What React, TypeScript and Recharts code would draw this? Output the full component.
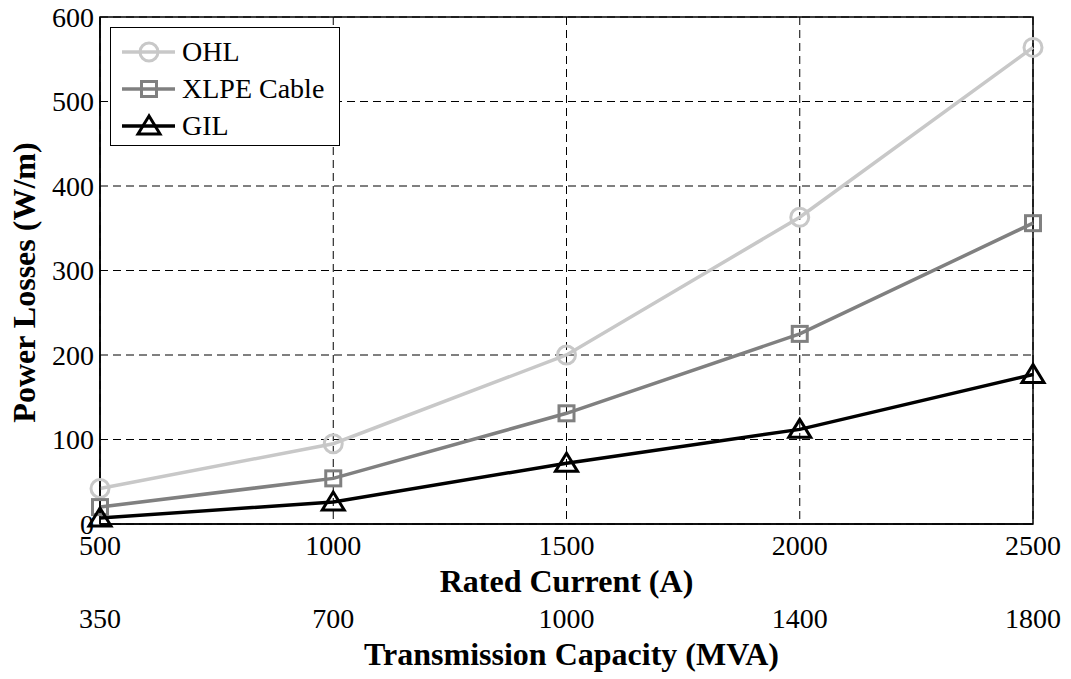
import React from 'react';
import {
  LineChart,
  Line,
  XAxis,
  YAxis,
  CartesianGrid,
  ReferenceArea,
} from 'recharts';

// rated current (A) and the matching transmission capacity (MVA)
const ratedCurrent = [500, 1000, 1500, 2000, 2500];
const capacityMVA = [350, 700, 1000, 1400, 1800];

// power losses in W/m
const ohlLosses = [42, 95, 200, 363, 564];
const xlpeLosses = [20, 54, 131, 225, 356];
const gilLosses = [7, 26, 72, 112, 177];

const lossTicks = [0, 100, 200, 300, 400, 500, 600];

const FONT = '"Liberation Serif", "Times New Roman", serif';
const TITLE_SIZE = 32;
const TICK_SIZE = 28;

const data = ratedCurrent.map((current, i) => ({
  current,
  ohl: ohlLosses[i],
  xlpe: xlpeLosses[i],
  gil: gilLosses[i],
}));

type Marker = 'circle' | 'square' | 'triangle';

const series: { key: string; name: string; color: string; marker: Marker }[] = [
  { key: 'ohl', name: 'OHL', color: '#c8c8c8', marker: 'circle' },
  { key: 'xlpe', name: 'XLPE Cable', color: '#808080', marker: 'square' },
  { key: 'gil', name: 'GIL', color: '#000000', marker: 'triangle' },
];

const MarkerShape = ({ cx, cy, color, marker }: { cx: number; cy: number; color: string; marker: Marker }) => {
  if (marker === 'circle') {
    return <circle cx={cx} cy={cy} r={9} fill="none" stroke={color} strokeWidth={3} />;
  }
  if (marker === 'square') {
    return <rect x={cx - 7.5} y={cy - 7.5} width={15} height={15} fill="none" stroke={color} strokeWidth={3} />;
  }
  const h = 9;
  return (
    <polygon
      points={`${cx},${cy - h - 1} ${cx - 11},${cy + h - 1} ${cx + 11},${cy + h - 1}`}
      fill="none"
      stroke={color}
      strokeWidth={3}
      strokeLinejoin="miter"
    />
  );
};

// legend box sitting in the top-left corner of the plot
const LegendBox = () => (
  <div
    style={{
      position: 'absolute',
      left: 110,
      top: 27,
      width: 230,
      height: 119,
      border: '1.5px solid #000',
      background: '#fff',
      fontFamily: FONT,
      fontSize: 28,
      boxSizing: 'border-box',
      paddingTop: 5,
    }}
  >
    {series.map((s) => (
      <div key={s.key} style={{ display: 'flex', alignItems: 'center', height: 37 }}>
        <svg width={71} height={30} style={{ flex: 'none' }}>
          <line x1={11} y1={15} x2={64} y2={15} stroke={s.color} strokeWidth={3.5} />
          <MarkerShape cx={38} cy={15} color={s.color} marker={s.marker} />
        </svg>
        <span style={{ lineHeight: '30px' }}>{s.name}</span>
      </div>
    ))}
  </div>
);

const capacityLabel = (v: number) => {
  const i = ratedCurrent.indexOf(v);
  return i >= 0 ? String(capacityMVA[i]) : '';
};

// rotated y title, baseline at x = 35
const YTitle = ({ viewBox }: any) => {
  const x = 35;
  const y = viewBox.y + viewBox.height / 2 + 12;
  return (
    <text
      x={x}
      y={y}
      transform={`rotate(-90, ${x}, ${y})`}
      textAnchor="middle"
      fontFamily={FONT}
      fontSize={TITLE_SIZE}
      fontWeight="bold"
      fill="#000"
    >
      Power Losses (W/m)
    </text>
  );
};

export default function App() {
  return (
    <div style={{ position: 'absolute', left: 0, top: 0, width: 1071, height: 679, background: '#fff' }}>
      <LineChart
        width={1071}
        height={679}
        data={data}
        margin={{ top: 17, right: 38, bottom: 0, left: 0 }}
        style={{ fontFamily: FONT }}
      >
        <CartesianGrid
          xAxisId="current"
          stroke="#000"
          strokeWidth={1}
          strokeDasharray="8 5"
        />
        {/* inner bottom axis: rated current */}
        <XAxis
          xAxisId="current"
          dataKey="current"
          type="number"
          domain={[500, 2500]}
          ticks={ratedCurrent}
          height={78}
          tickSize={0}
          tickMargin={11}
          axisLine={{ stroke: '#000', strokeWidth: 1.5 }}
          tick={{ fill: '#000', fontSize: TICK_SIZE, fontFamily: FONT }}
          label={{
            value: 'Rated Current (A)',
            position: 'insideBottom',
            offset: 10,
            style: { fontSize: TITLE_SIZE, fontWeight: 'bold', fill: '#000', fontFamily: FONT },
          }}
        />
        {/* outer bottom axis: transmission capacity */}
        <XAxis
          xAxisId="mva"
          dataKey="current"
          type="number"
          domain={[500, 2500]}
          ticks={ratedCurrent}
          tickFormatter={capacityLabel}
          height={77}
          tickSize={0}
          tickMargin={6}
          axisLine={false}
          tick={{ fill: '#000', fontSize: TICK_SIZE, fontFamily: FONT }}
          label={{
            value: 'Transmission Capacity (MVA)',
            position: 'insideBottom',
            offset: 14,
            dx: 5,
            style: { fontSize: TITLE_SIZE, fontWeight: 'bold', fill: '#000', fontFamily: FONT },
          }}
        />
        <YAxis
          type="number"
          domain={[0, 600]}
          ticks={lossTicks}
          width={100}
          tickSize={0}
          tickMargin={6}
          axisLine={{ stroke: '#000', strokeWidth: 1.5 }}
          tick={{ fill: '#000', fontSize: TICK_SIZE, fontFamily: FONT }}
          label={{ content: YTitle }}
        />
        <ReferenceArea
          xAxisId="current"
          x1={500}
          x2={2500}
          y1={0}
          y2={600}
          fill="none"
          stroke="#000"
          strokeWidth={1.5}
          ifOverflow="visible"
        />
        {series.map((s) => (
          <Line
            key={s.key}
            xAxisId="current"
            dataKey={s.key}
            name={s.name}
            stroke={s.color}
            strokeWidth={3.5}
            isAnimationActive={false}
            dot={(props: any) => (
              <MarkerShape key={`${s.key}-${props.index}`} cx={props.cx} cy={props.cy} color={s.color} marker={s.marker} />
            )}
          />
        ))}
      </LineChart>
      <LegendBox />
    </div>
  );
}
